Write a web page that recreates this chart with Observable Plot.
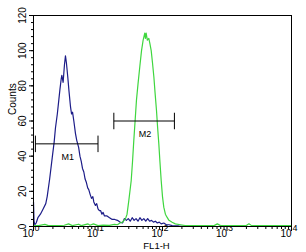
<!DOCTYPE html>
<html><head><meta charset="utf-8">
<script src="https://cdn.jsdelivr.net/npm/d3@7"></script>
<script src="https://cdn.jsdelivr.net/npm/@observablehq/plot@0.6"></script>
<style>body{margin:0;background:#fff}</style>
</head><body><div id="chart"></div>
<script>
const blueX = [1.0,1.02,1.05,1.1,1.17,1.28,1.41,1.55,1.63,1.78,1.95,2.09,2.19,2.34,2.47,2.57,2.69,2.75,2.88,3.02,3.13,3.24,3.40,3.55,3.75,3.89,4.03,4.22,4.47,4.68,5.01,5.25,5.50,5.75,6.03,6.31,6.61,6.92,7.19,7.59,7.94,8.32,8.61,9.12,9.55,10,10.5,11.0,11.5,12.0,12.6,13.8,15.1,16.6,18.2,20.0,21.9,24.0,25.7,27.5,29.5,31.6,33.9,36.3,38.9,41.7,44.7,47.9,51.3,55.0,58.9,63.1,67.6,72.4,77.6,83.2,89.1,95.5,104.7,114.8,125.9,141,178,224];
const blueY = [14,3,1,2,5,7,10,13,17,27,39,48,56,64,72,78,84,86,82,92,97,93,85,77,68,64,65,60,53,49,45,40,37,33,31,27,25,22,21,18,16,17,14,12,13,10,9,9,7,8,6,6,5,4,4,3.5,2.5,2,4.5,3.5,4.5,3,5,3.5,4.5,3,5,3.5,4.5,3,4.5,3,3.5,2.5,3,2,2.5,1.5,2,1,1,0.5,0.3,0];
const greenX = [1.0,1.2,1.5,1.7,2.3,3.0,3.5,4.0,5.0,5.5,7.0,7.5,8.5,10,12,15,18,20,21.9,24,26.7,28.2,30.1,32.7,34.3,35.9,37.6,39.5,41.7,44.5,47.3,50.1,53.1,54.3,55.8,58.2,61.4,63.8,66.8,70.0,73.5,76.7,80.7,84.1,87.7,91.2,95.5,100,104.7,110.9,117.5,125.9,141,158,190,224,398,631,708,794,1995,2188,2399,10000];
const greenY = [0.5,0.5,1.2,0.5,0.5,0.7,1.5,0.5,1.3,0.5,1.5,0.7,1.5,0.5,0.8,0.6,1.2,1,2,2.5,4.5,7,15,26,37,49,60,72,81,91,100,106,110,107,110,106,107,104,100,93,85,76,66,56,47,37,26,17,11,7,5.3,3.5,2.4,1.5,1,0.5,0.5,0.5,1.5,0.5,0.5,1.5,0.5,0.5];
const gateNames = ["M1","M2"];
const gateStart = [1.07,17.6];
const gateEnd = [10,153];
const gateLevel = [47,60];
const decades = [1,10,100,1000,10000];
const yTicks = [0,20,40,60,80,100,120];

const blue = blueX.map((x,i)=>({x, y: blueY[i]}));
const green = greenX.map((x,i)=>({x, y: greenY[i]}));
const gates = gateNames.map((name,i)=>({name, x1: gateStart[i], x2: gateEnd[i], y: gateLevel[i]}));
const minorX = d3.range(0,4).flatMap(e=>d3.range(2,10).map(m=>m*Math.pow(10,e)));
const minorY = d3.range(0,121,4);
const caps = gates.flatMap(g=>[{x:g.x1,y:g.y},{x:g.x2,y:g.y}]);
const font = "Liberation Sans, Arial, sans-serif";

const plot = Plot.plot({
  width: 306, height: 252,
  marginLeft: 33, marginRight: 15, marginTop: 15, marginBottom: 26,
  style: {fontFamily: font, fontSize: "10px", background: "white", color: "#000"},
  x: {type: "log", domain: [1, 10000]},
  y: {domain: [0, 120]},
  marks: [
    Plot.axisX({ticks: minorX, tickSize: 3, tickFormat: () => "", label: null}),
    Plot.axisX({ticks: decades, tickSize: 5, tickFormat: () => "", label: null}),
    Plot.axisY({ticks: minorY, tickSize: 2, tickFormat: () => "", label: null}),
    Plot.axisY({ticks: yTicks, tickSize: 4, tickFormat: () => "", label: null}),
    Plot.text(yTicks, {y: d => d, text: d => String(d), frameAnchor: "left", dx: -11, rotate: -90, textAnchor: "middle", lineAnchor: "middle", fontSize: 10}),
    Plot.text(["Counts"], {frameAnchor: "left", dx: -21, dy: -6, rotate: -90, text: d => d, fontSize: 10}),
    Plot.text(decades, {x: d => d, text: () => "10", frameAnchor: "bottom", dy: 10, textAnchor: "end", dx: 0, fontSize: 10}),
    Plot.text(decades, {x: d => d, text: d => String(Math.round(Math.log10(d))), frameAnchor: "bottom", dy: 4, textAnchor: "start", dx: 1, fontSize: 9}),
    Plot.text(["FL1-H"], {frameAnchor: "bottom", dy: 22, dx: -6, text: d => d, fontSize: 9.5}),
    Plot.line(blue, {x: "x", y: "y", stroke: "#1c1c88", strokeWidth: 1.2}),
    Plot.line(green, {x: "x", y: "y", stroke: "#3fd63f", strokeWidth: 1.2}),
    Plot.link(gates, {x1: "x1", x2: "x2", y1: "y", y2: "y", stroke: "#000", strokeWidth: 1}),
    Plot.link(caps, {x1: "x", x2: "x", y1: d => d.y - 4.7, y2: d => d.y + 4.7, stroke: "#000", strokeWidth: 1}),
    Plot.text(gates, {x: d => Math.sqrt(d.x1 * d.x2), y: "y", text: "name", dy: 13, dx: 1, fontSize: 9}),
    Plot.frame({stroke: "#000", strokeWidth: 1})
  ]
});
document.getElementById("chart").appendChild(plot);
</script></body></html>
